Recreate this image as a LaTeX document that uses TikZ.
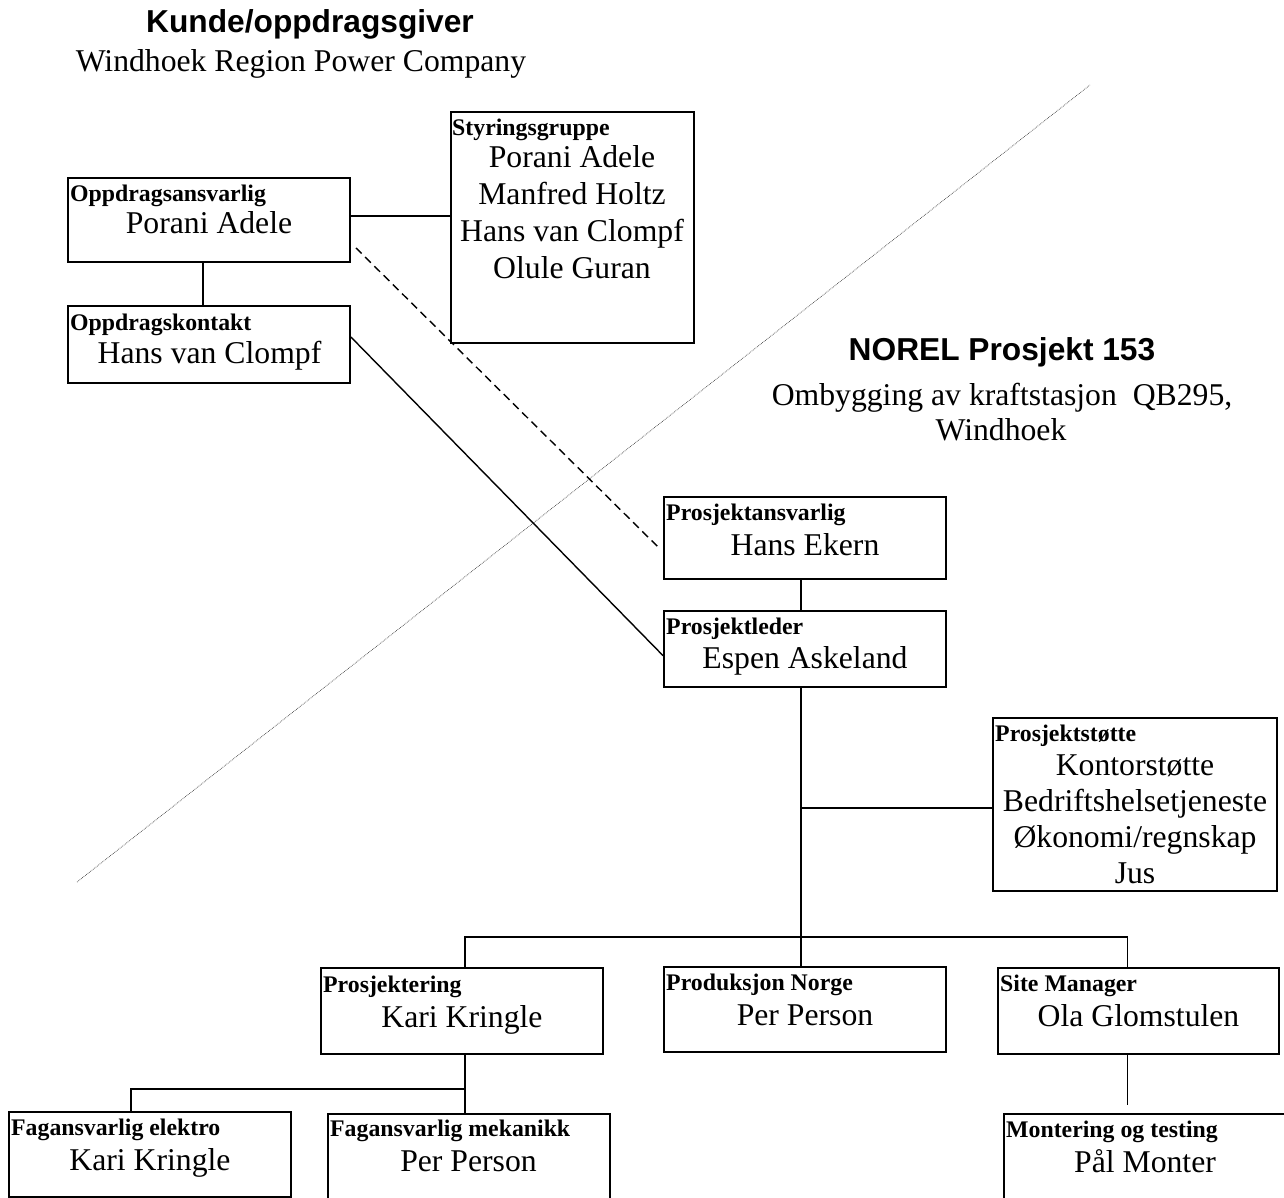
\documentclass[tikz,border=0pt]{standalone}
\usepackage{fontspec}
\setmainfont{Liberation Serif}
\newfontfamily\headfont{Liberation Sans}
\usetikzlibrary{calc}

\tikzset{
  orgbox/.style={draw, rectangle, line width=1.8pt, inner sep=0pt, minimum width=282pt},
  role/.style={inner sep=0pt, anchor=base west, font=\fontsize{23.8}{28}\selectfont\bfseries},
  person/.style={inner sep=0pt, anchor=base, font=\fontsize{31.7}{37}\selectfont},
  heading/.style={inner sep=0pt, anchor=base, font=\headfont\fontsize{31.7}{38}\selectfont\bfseries},
  link/.style={draw, line width=1.4pt},
  border/.style={draw, densely dotted, line width=0.7pt, black!75}
}

\begin{document}
\begin{tikzpicture}[x=1pt,y=-1pt]
\useasboundingbox (0,0) rectangle (1284,1198);
\clip (0,0) rectangle (1284,1198);

% dividing line between client and contractor
\coordinate (div-a) at (77,882);
\coordinate (div-b) at (1090,85);
\draw[border] (div-a) -- (div-b);

% headings
\node[heading] (client) at (310,33) {Kunde/oppdragsgiver};
\node[person] (client-name) at (301,72) {Windhoek Region Power Company};
\node[heading] (project) at (1002,360) {NOREL Prosjekt 153};
\node[person] (project-l1) at (1002,405) {Ombygging av kraftstasjon\ \ QB295,};
\node[person] (project-l2) at (1001,440) {Windhoek};

% client side
\node[orgbox, minimum height=84pt] (oa) at (209,220) {};
\node[role] (oa-r) at (70,202) {Oppdragsansvarlig};
\node[person] (oa-n) at (209,234) {Porani Adele};

\node[orgbox, minimum height=77pt] (ok) at (209,344.5) {};
\node[role] (ok-r) at (70,330) {Oppdragskontakt};
\node[person] (ok-n) at (209.5,363) {Hans van Clompf};

\node[orgbox, minimum width=243pt, minimum height=231pt] (sg) at (572.5,227.5) {};
\node[role] (sg-r) at (452,136) {Styringsgruppe};
\node[person] (sg-n1) at (572,168) {Porani Adele};
\node[person] (sg-n2) at (572,205) {Manfred Holtz};
\node[person] (sg-n3) at (572,242) {Hans van Clompf};
\node[person] (sg-n4) at (572,279) {Olule Guran};

% project management
\node[orgbox, minimum height=82pt] (pa) at (805,538) {};
\node[role] (pa-r) at (666,520) {Prosjektansvarlig};
\node[person] (pa-n) at (805,555) {Hans Ekern};

\node[orgbox, minimum height=76pt] (pl) at (805,649) {};
\node[role] (pl-r) at (666,634) {Prosjektleder};
\node[person] (pl-n) at (805,668) {Espen Askeland};

\node[orgbox, minimum width=284pt, minimum height=173pt] (ps) at (1135,804.5) {};
\node[role] (ps-r) at (995,741) {Prosjektstøtte};
\node[person] (ps-n1) at (1135,775) {Kontorstøtte};
\node[person] (ps-n2) at (1135,811) {Bedriftshelsetjeneste};
\node[person] (ps-n3) at (1135,847) {Økonomi/regnskap};
\node[person] (ps-n4) at (1135,883) {Jus};

% departments
\node[orgbox, minimum height=86pt] (pr) at (462,1011) {};
\node[role] (pr-r) at (323,992) {Prosjektering};
\node[person] (pr-n) at (462,1027) {Kari Kringle};

\node[orgbox, minimum height=85pt] (pn) at (805,1009.5) {};
\node[role] (pn-r) at (666,990) {Produksjon Norge};
\node[person] (pn-n) at (805,1025) {Per Person};

\node[orgbox, minimum width=281pt, minimum height=86pt] (sm) at (1138.5,1011) {};
\node[role] (sm-r) at (1000,991) {Site Manager};
\node[person] (sm-n) at (1138.5,1026) {Ola Glomstulen};

% disciplines
\node[orgbox, minimum height=85pt] (fe) at (150,1154.5) {};
\node[role] (fe-r) at (11,1135) {Fagansvarlig elektro};
\node[person] (fe-n) at (150,1170) {Kari Kringle};

\node[orgbox, minimum height=87pt] (fm) at (469,1157.5) {};
\node[role] (fm-r) at (330,1136) {Fagansvarlig mekanikk};
\node[person] (fm-n) at (468.5,1171) {Per Person};

\node[orgbox, minimum height=88pt] (mt) at (1145,1158) {};
\node[role] (mt-r) at (1006,1137) {Montering og testing};
\node[person] (mt-n) at (1145,1172) {Pål Monter};

% client connections
\draw[link] ([xshift=-6pt]oa.south) -- ([xshift=-6pt]ok.north);
\coordinate (oa-e) at ([yshift=4pt]oa.east);
\draw[link] (oa-e) -- (oa-e -| sg.west);
\draw[link, line width=1.4pt, dash pattern=on 8pt off 5pt]
  ([xshift=5pt,yshift=15pt]oa.south east) -- ([xshift=-4pt,yshift=-10pt]pa.west);
\draw[link] ([yshift=7.5pt]ok.east) -- ([yshift=-6.7pt]pl.west);

% project hierarchy
\draw[link] ([xshift=-4pt]pa.south) -- ([xshift=-4pt]pl.north);
\coordinate (trunk) at ([xshift=-4pt]pl.south);
\draw[link] (trunk) -- ([xshift=-4pt]pn.north);
\coordinate (ps-w) at ([yshift=-3.5pt]ps.west);
\draw[link] (ps-w) -- (ps-w -| trunk);
\coordinate (pr-t) at ([xshift=3pt]pr.north);
\coordinate (sm-t) at ([xshift=-11pt]sm.north);
\draw[link] (pr-t) -- ++(0,-30) -| (sm-t);

% below the departments
\coordinate (pr-b) at ([xshift=3pt]pr.south);
\draw[link] (pr-b) -- ([xshift=-4pt]fm.north);
\coordinate (fe-t) at ([xshift=-19pt]fe.north);
\draw[link] (fe-t) -- ++(0,-22) -| (pr-b);
\draw[link, shorten >=8pt] ([xshift=-11pt]sm.south) -- ([xshift=-17.5pt]mt.north);
\end{tikzpicture}
\end{document}
